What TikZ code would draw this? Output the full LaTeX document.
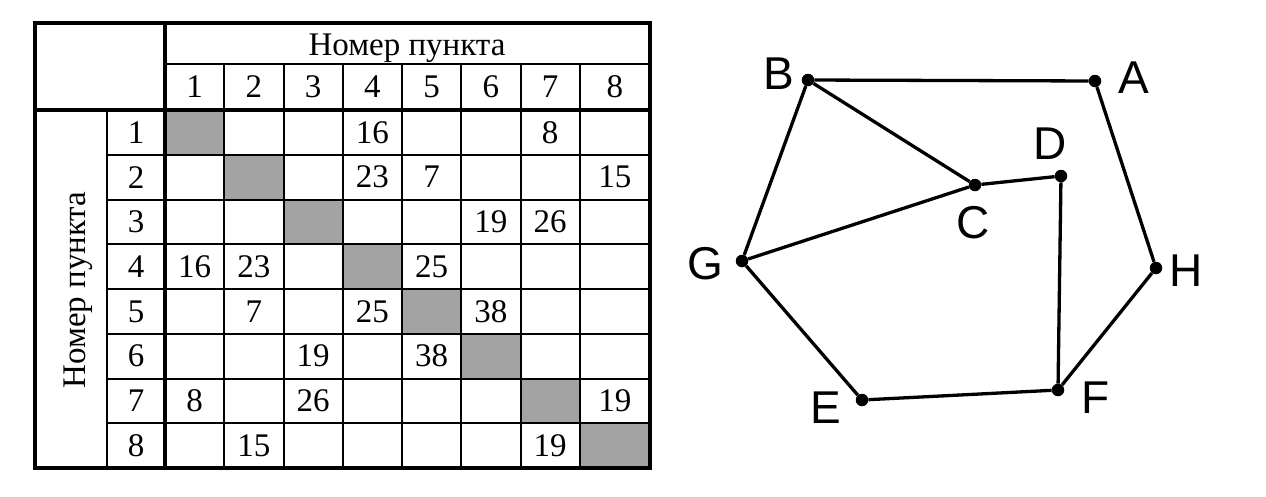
\documentclass[tikz,border=0pt]{standalone}
\usepackage{fontspec}
\setmainfont{Liberation Serif}
\newfontfamily\graphfont{Liberation Sans}
\usetikzlibrary{positioning}
\definecolor{cellgray}{RGB}{163,163,163}
\tikzset{
  vertex/.style={circle,fill,inner sep=0pt,minimum size=12.5pt},
  letter/.style={inner sep=0pt,font=\graphfont\fontsize{46}{46}\selectfont},
  thinrule/.style={line width=2pt},
  thickrule/.style={line width=4.5pt},
  cell/.style={inner sep=0pt},
}
\begin{document}
\begin{tikzpicture}[x=1pt,y=-1pt,font=\fontsize{33}{38}\selectfont]
  \useasboundingbox (0,0) rectangle (1266,496);
  % table of distances
  \foreach \i in {1,...,7}
    \fill[cellgray] ({165+(\i-1)*59.25},{110+(\i-1)*44.75}) rectangle ++(59.25,44.75);
  \fill[cellgray] (579.75,423.25) rectangle (650,468);
  \foreach \j in {1,...,7}
    \draw[thinrule] ({165+\j*59.25},64) -- ({165+\j*59.25},468);
  \foreach \i in {1,...,7}
    \draw[thinrule] (107,{110+\i*44.75}) -- (650,{110+\i*44.75});
  \draw[thinrule] (165,64) -- (650,64);
  \draw[thinrule] (107,110) -- (107,468);
  \draw[thickrule] (35,23) rectangle (650,468);
  \draw[thickrule] (165,23) -- (165,468);
  \draw[thickrule] (35,110) -- (650,110);
  \node[cell,anchor=base] (top) at (407,55) {Номер пункта};
  \node[cell,anchor=base,rotate=90] (side) at (85,290) {Номер пункта};
  \foreach \j in {1,...,8} {
    \pgfmathsetmacro\cx{ifthenelse(\j==8,614.9,165+(\j-0.5)*59.25)}
    \node[cell] (h\j) at (\cx,87) {\j};
    \node[cell] (r\j) at (136,{110+(\j-0.5)*44.75}) {\j};
  }
  \foreach \i/\j/\v in {1/4/16,1/7/8,2/4/23,2/5/7,2/8/15,3/6/19,3/7/26,
      4/1/16,4/2/23,4/5/25,5/2/7,5/4/25,5/6/38,6/3/19,6/5/38,
      7/1/8,7/3/26,7/8/19,8/2/15,8/7/19} {
    \pgfmathsetmacro\cx{ifthenelse(\j==8,614.9,165+(\j-0.5)*59.25)}
    \node[cell] (e\i\j) at (\cx,{110+(\i-0.5)*44.75}) {\v};
  }
  % graph
  \begin{scope}[every node/.style=vertex]
    \draw
      (1095,81) node (A){}
      (808,80) node (B){}
      (975,185) node (C){}
      (1061,176) node (D){}
      (862,400) node (E){}
      (1058,390) node (F){}
      (742,261) node (G){}
      (1156,268) node (H){};
  \end{scope}
  \node[letter,right=17pt of A,yshift=3pt] (lA) {A};
  \node[letter,left=7pt of B,yshift=6pt] (lB) {B};
  \node[letter,below=15pt of C,xshift=-2pt] (lC) {C};
  \node[letter,above=10pt of D,xshift=-11pt] (lD) {D};
  \node[letter,left=14pt of E,yshift=-8pt] (lE) {E};
  \node[letter,right=17pt of F,yshift=-8pt] (lF) {F};
  \node[letter,left=12pt of G,yshift=-3pt] (lG) {G};
  \node[letter,right=7pt of H,yshift=-3pt] (lH) {H};
  \begin{scope}[line width=3.3pt]
    \draw (B) to (A);
    \draw (B) to (C);
    \draw (B) to (G);
    \draw (A) to (H);
    \draw (C) to (D);
    \draw (C) to (G);
    \draw (D) to (F);
    \draw (G) to (E);
    \draw (E) to (F);
    \draw (F) to (H);
  \end{scope}
\end{tikzpicture}
\end{document}
